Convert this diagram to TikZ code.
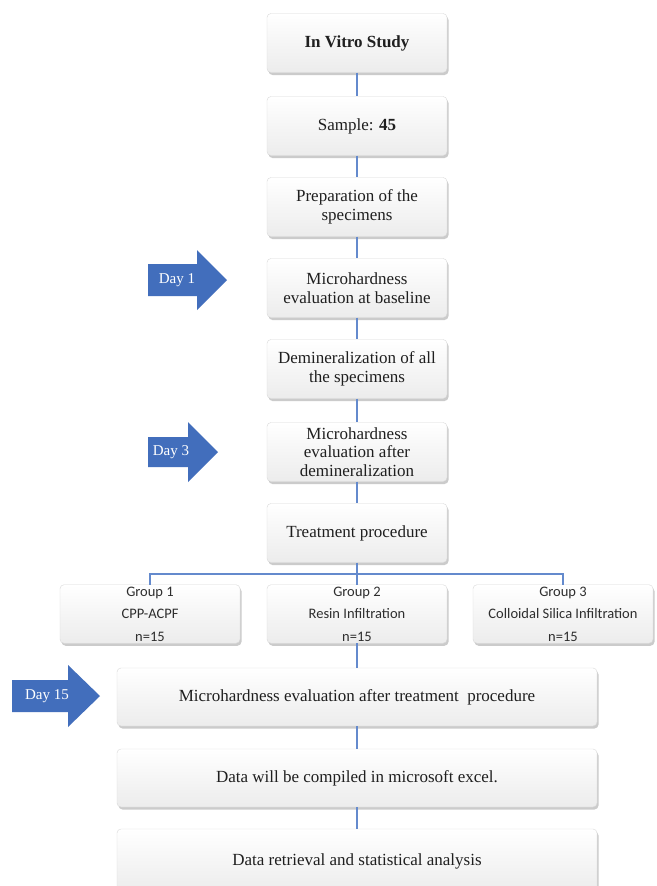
\documentclass[tikz,border=0pt]{standalone}
\usepackage{fontspec}
\setmainfont{Liberation Serif}
\newfontfamily\groupfont{Carlito}
\usetikzlibrary{shadows}
\definecolor{linkblue}{RGB}{100,138,205}
\definecolor{dayblue}{RGB}{66,110,188}
\tikzset{
  stepbox/.style={draw=gray!30, rounded corners=4pt, top color=white, bottom color=gray!15,
    drop shadow={shadow xshift=1.5pt, shadow yshift=-2.5pt, opacity=0.5, fill=gray!80},
    align=center, minimum width=180pt, minimum height=59pt, inner sep=2pt,
    text=black!88, font=\fontsize{17}{18.5}\selectfont},
  groupbox/.style={stepbox, minimum width=180pt, minimum height=58pt,
    text=black!82, font=\groupfont\fontsize{14.5}{22.5}\selectfont},
  widebox/.style={stepbox, minimum width=480pt, minimum height=58pt},
  dayarrow/.style={fill=dayblue},
  daytext/.style={text=white, inner sep=0pt, font=\fontsize{15}{17}\selectfont},
  link/.style={draw=linkblue, line width=1.3pt}
}
\begin{document}
\begin{tikzpicture}[x=1pt,y=-1pt]
\useasboundingbox[fill=white] (0,0) rectangle (656,886);
\node[stepbox] (study) at (357,43) {\textbf{In Vitro Study}};
\node[stepbox] (sample) at (357,126) {Sample: \textbf{45}};
\node[stepbox] (prep) at (357,207) {Preparation of the\\ specimens};
\node[stepbox] (base) at (357,288) {Microhardness\\ evaluation at baseline};
\node[stepbox] (demin) at (357,369) {Demineralization of all\\ the specimens};
\node[stepbox] (after) at (357,452) {Microhardness\\ evaluation after\\ demineralization};
\node[stepbox] (treat) at (357,533) {Treatment procedure};
\node[groupbox] (g1) at (150,614) {Group 1\\ CPP-ACPF\\ n=15};
\node[groupbox] (g2) at (357,614) {Group 2\\ Resin Infiltration\\ n=15};
\node[groupbox] (g3) at (563,614) {Group 3\\ Colloidal Silica Infiltration\\ n=15};
\node[widebox] (final) at (357,697) {Microhardness evaluation after treatment\ \ procedure};
\node[widebox] (excel) at (357,778) {Data will be compiled in microsoft excel.};
\node[widebox, minimum height=64pt] (stats) at (357,861) {Data retrieval and statistical analysis};
\coordinate (split) at (357,574);
\draw[link] (study) -- (sample);
\draw[link] (sample) -- (prep);
\draw[link] (prep) -- (base);
\draw[link] (base) -- (demin);
\draw[link] (demin) -- (after);
\draw[link] (after) -- (treat);
\draw[link] (treat) -- (split);
\draw[link] (g1.north) |- (split) -| (g3.north);
\draw[link] (split) -- (g2);
\draw[link] (g2) -- (final);
\draw[link] (final) -- (excel);
\draw[link] (excel) -- (stats.north);
\fill[dayarrow] (148,264) -- (197,264) -- (197,250) -- (227,280) -- (197,310) -- (197,296) -- (148,296) -- cycle;
\node[daytext] (day1) at (177,280) {Day 1};
\fill[dayarrow] (148,437) -- (188,437) -- (188,422) -- (218,452) -- (188,482) -- (188,467) -- (148,467) -- cycle;
\node[daytext] (day3) at (171,452) {Day 3};
\fill[dayarrow] (12,680) -- (68,680) -- (68,665) -- (100,696) -- (68,727) -- (68,712) -- (12,712) -- cycle;
\node[daytext] (day15) at (47,696) {Day 15};
\end{tikzpicture}
\end{document}
